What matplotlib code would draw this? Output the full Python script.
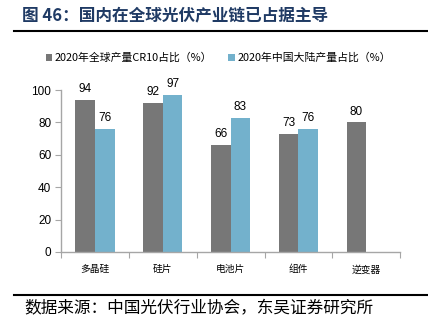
import matplotlib
matplotlib.use('Agg')
import matplotlib.pyplot as plt
import numpy as np

plt.rcParams['font.family'] = ['Noto Sans CJK SC', 'DejaVu Sans']

categories = ['多晶硅', '硅片', '电池片', '组件', '逆变器']
global_cr10 = [94, 92, 66, 73, 80]
china_share = [76, 97, 83, 76, None]
series_names = ['2020年全球产量CR10占比（%）', '2020年中国大陆产量占比（%）']

gray = '#777777'
blue = '#73B1CC'
axis_gray = '#A6A6A6'

fig = plt.figure(figsize=(4.28, 3.35), dpi=100)
ax = fig.add_axes([0.1425, 0.248, 0.7925, 0.483])

x = np.arange(len(categories))
w = 0.29
for i, v in enumerate(global_cr10):
    ax.bar(x[i] - w / 2, v, w, color=gray, label=series_names[0] if i == 0 else None)
    ax.text(x[i] - w / 2, v + 3, str(v), ha='center', va='bottom', fontsize=8.5,
            family='Liberation Sans')
for i, v in enumerate(china_share):
    if v is None:
        continue
    ax.bar(x[i] + w / 2, v, w, color=blue, label=series_names[1] if i == 0 else None)
    ax.text(x[i] + w / 2, v + 3, str(v), ha='center', va='bottom', fontsize=8.5,
            family='Liberation Sans')

ax.set_xlim(-0.5, len(categories) - 0.5)
ax.set_ylim(0, 100)
ax.set_yticks(range(0, 101, 20))
ax.set_yticklabels([str(t) for t in range(0, 101, 20)], family='Liberation Sans', fontsize=8.5)
ax.set_xticks(np.arange(-0.5, len(categories), 1.0))
ax.set_xticklabels([])
ax.set_xticks(x, minor=True)
ax.set_xticklabels(categories, minor=True, fontsize=7)
ax.tick_params(axis='x', which='minor', length=0, pad=9)
ax.tick_params(axis='x', which='major', length=4, color=axis_gray)
ax.tick_params(axis='y', length=4, color=axis_gray, pad=3)
for s in ['top', 'right']:
    ax.spines[s].set_visible(False)
for s in ['left', 'bottom']:
    ax.spines[s].set_color(axis_gray)
    ax.spines[s].set_linewidth(1)

ax.legend(loc='center', ncol=2, frameon=False, fontsize=7.8, handlelength=0.6,
          handleheight=0.6, handletextpad=0.2, columnspacing=1.5)
leg = ax.get_legend()
leg.set_bbox_to_anchor((0.51, 1 - 58 / 335), transform=fig.transFigure)

fig.text(22 / 428, 1 - 15 / 335, '图 46：国内在全球光伏产业链已占据主导', fontsize=12,
         fontweight='bold', color='#1F3A64', va='center', ha='left')
fig.add_artist(plt.Line2D([14 / 428, 1], [1 - 31 / 335] * 2, color='black', lw=1.5))
fig.add_artist(plt.Line2D([14 / 428, 1], [1 - 295 / 335] * 2, color='black', lw=1.5))
fig.text(24 / 428, 1 - 309 / 335, '数据来源：中国光伏行业协会，东吴证券研究所', fontsize=12,
         color='black', va='center', ha='left')

fig.savefig('out.png', dpi=100)
